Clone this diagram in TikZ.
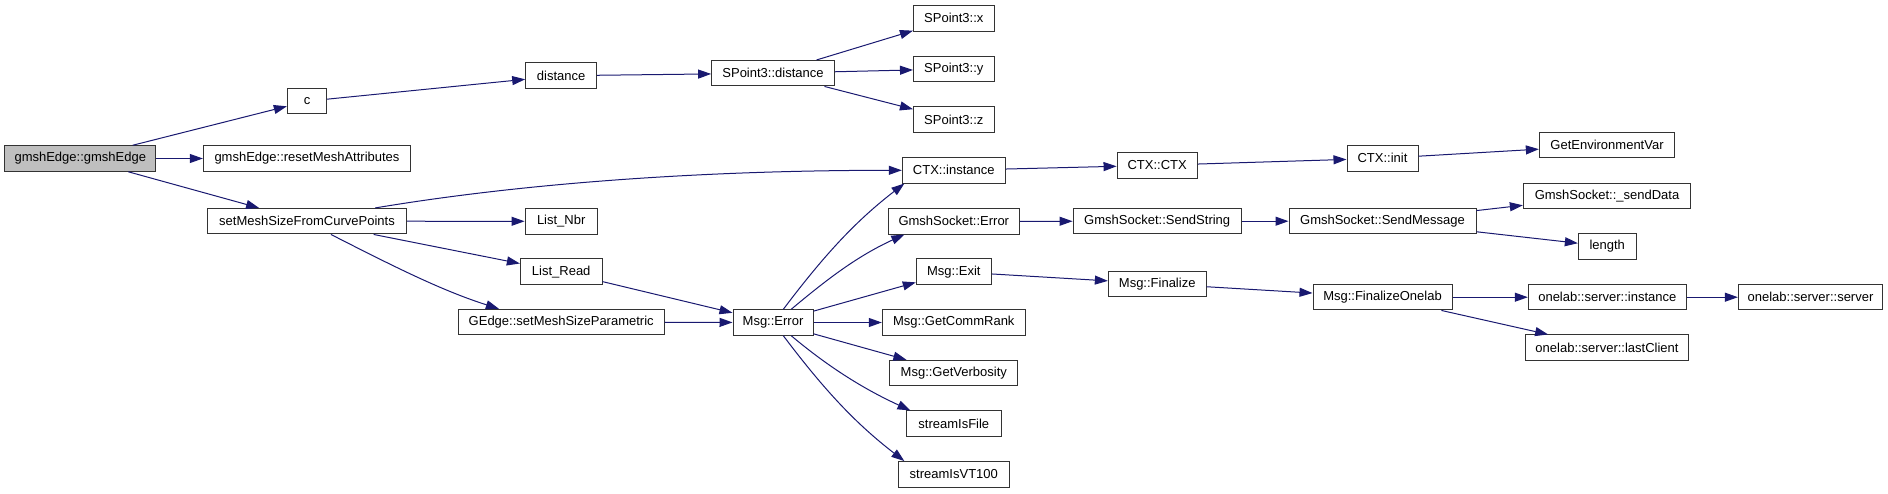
\documentclass[tikz,border=0pt]{standalone}
\usepackage{fontspec}
\setmainfont{Liberation Sans}
\usetikzlibrary{arrows.meta}
\definecolor{edgeblue}{RGB}{25,25,112}
\begin{document}
\begin{tikzpicture}[x=1pt,y=1pt,
  box/.style={draw=black!80, line width=1pt, rectangle, inner sep=0pt, minimum height=25.5pt, font=\fontsize{13}{15}\selectfont, fill=white},
  rootbox/.style={box, fill=black!25},
  edge/.style={draw=edgeblue, line width=1pt, -{Triangle[length=13pt,width=9pt]}},
]
\useasboundingbox (0,0) rectangle (1888,-493);
% column 0-2
\node[rootbox, minimum width=151.3pt] (root) at (80.3,-158.5) {gmshEdge::gmshEdge};
\node[box, minimum width=39.3pt] (c) at (307,-101.2) {c};
\node[box, minimum width=207.3pt] (reset) at (307,-158.5) {gmshEdge::resetMeshAttributes};
\node[box, minimum width=199.3pt] (ms) at (307,-221.2) {setMeshSizeFromCurvePoints};
\node[box, minimum width=71pt] (dist) at (561.2,-75.7) {distance};
\node[box, minimum width=72.3pt] (lnbr) at (561.2,-221.3) {List\_Nbr};
\node[box, minimum width=81.7pt] (lread) at (561.2,-271.7) {List\_Read};
\node[box, minimum width=205.7pt] (gedge) at (561.2,-322) {GEdge::setMeshSizeParametric};
% column 3
\node[box, minimum width=122.7pt] (spd) at (773,-73.2) {SPoint3::distance};
\node[box, minimum width=80pt] (merr) at (773,-322.5) {Msg::Error};
% column 4
\node[box, minimum width=80.7pt] (spx) at (953.8,-18.3) {SPoint3::x};
\node[box, minimum width=80.7pt] (spy) at (953.8,-69) {SPoint3::y};
\node[box, minimum width=80.7pt] (spz) at (953.8,-119.7) {SPoint3::z};
\node[box, minimum width=103pt] (ctxi) at (953.8,-170.3) {CTX::instance};
\node[box, minimum width=131pt] (gse) at (953.8,-221.3) {GmshSocket::Error};
\node[box, minimum width=75pt] (mexit) at (953.8,-271.7) {Msg::Exit};
\node[box, minimum width=143pt] (mrank) at (953.8,-322.5) {Msg::GetCommRank};
\node[box, minimum width=128pt] (mverb) at (953.8,-373) {Msg::GetVerbosity};
\node[box, minimum width=94.5pt] (sfile) at (953.8,-423.7) {streamIsFile};
\node[box, minimum width=110.7pt] (svt) at (953.8,-474.3) {streamIsVT100};
% column 5
\node[box, minimum width=80.3pt] (ctxctx) at (1157.2,-165.3) {CTX::CTX};
\node[box, minimum width=168.3pt] (gss) at (1157.2,-221.2) {GmshSocket::SendString};
\node[box, minimum width=97.7pt] (mfin) at (1157.2,-283.8) {Msg::Finalize};
% column 6
\node[box, minimum width=71pt] (ctxinit) at (1382.5,-158.3) {CTX::init};
\node[box, minimum width=187pt] (gsm) at (1382.5,-221.2) {GmshSocket::SendMessage};
\node[box, minimum width=139pt] (mfo) at (1382.5,-297.2) {Msg::FinalizeOnelab};
% column 7
\node[box, minimum width=135.3pt] (genv) at (1607,-145.2) {GetEnvironmentVar};
\node[box, minimum width=167.3pt] (gsd) at (1607,-195.8) {GmshSocket::\_sendData};
\node[box, minimum width=57.7pt] (len) at (1607.2,-246.5) {length};
\node[box, minimum width=158pt] (osi) at (1607.3,-297.2) {onelab::server::instance};
\node[box, minimum width=163.3pt] (olc) at (1607,-347.7) {onelab::server::lastClient};
% column 8
\node[box, minimum width=144.3pt] (oss) at (1810.5,-297.2) {onelab::server::server};

% edges
\draw[edge] (root) -- (c);
\draw[edge] (root) -- (reset);
\draw[edge] (root) -- (ms);
\draw[edge] (c) -- (dist);
\draw[edge] (dist) -- (spd);
\draw[edge] (spd) -- (spx);
\draw[edge] (spd) -- (spy);
\draw[edge] (spd) -- (spz);
\draw[edge] (ms.11) .. controls +(9.5:150) and +(180:200) .. (ctxi.west);
\draw[edge] (ms) -- (lnbr);
\draw[edge] (ms) -- (lread);
\draw[edge] (ms.-29) .. controls +(-27:70) and +(162.4:60) .. (gedge.168);
\draw[edge] (lread) -- (merr);
\draw[edge] (gedge) -- (merr);
\draw[edge] (merr.52) .. controls +(53:70) and +(217.6:60) .. (ctxi.195);
\draw[edge] (merr.36) .. controls +(40:50) and +(204.6:50) .. (gse.195);
\draw[edge] (merr) -- (mexit);
\draw[edge] (merr) -- (mrank);
\draw[edge] (merr) -- (mverb);
\draw[edge] (merr.-36) .. controls +(-40:50) and +(155.4:50) .. (sfile.163);
\draw[edge] (merr.-52) .. controls +(-53:70) and +(142.4:60) .. (svt.165);
\draw[edge] (ctxi) -- (ctxctx);
\draw[edge] (ctxctx) -- (ctxinit);
\draw[edge] (ctxinit) -- (genv);
\draw[edge] (gse) -- (gss);
\draw[edge] (gss) -- (gsm);
\draw[edge] (gsm) -- (gsd);
\draw[edge] (gsm) -- (len);
\draw[edge] (mexit) -- (mfin);
\draw[edge] (mfin) -- (mfo);
\draw[edge] (mfo) -- (osi);
\draw[edge] (osi) -- (oss);
\draw[edge] (mfo) -- (olc);
\end{tikzpicture}
\end{document}
